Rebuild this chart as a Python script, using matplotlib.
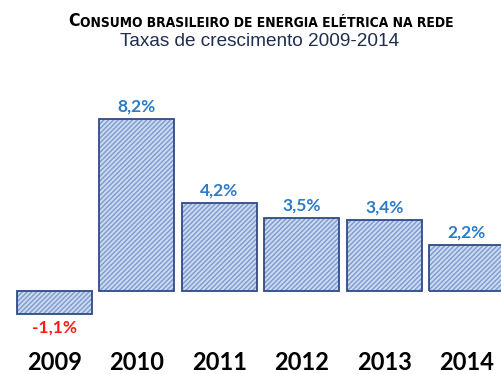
import matplotlib.pyplot as plt

# crescimento anual do consumo de energia elétrica na rede (%)
years = ['2009', '2010', '2011', '2012', '2013', '2014']
growth = [-1.1, 8.2, 4.2, 3.5, 3.4, 2.2]
value_labels = ['-1,1%', '8,2%', '4,2%', '3,5%', '3,4%', '2,2%']

plt.rcParams['hatch.linewidth'] = 1.0

fig = plt.figure(figsize=(5.02, 3.74), dpi=100)
ax = fig.add_axes([0, 0.1176, 1, 0.722])

x = list(range(len(years)))
# fill + hatch, then outline on top
ax.bar(x, growth, width=0.91, color='#CCD9F0', edgecolor='#7C9BD0',
       hatch='///////', linewidth=0)
ax.bar(x, growth, width=0.91, fill=False, edgecolor='#2F4B85', linewidth=1.3)

for xi, v, lab in zip(x, growth, value_labels):
    if v >= 0:
        ax.annotate(lab, (xi, v), textcoords='offset points', xytext=(0, 3),
                    ha='center', va='bottom', fontsize=12.5, fontweight='bold',
                    color='#2B7BC6', family='Lato')
    else:
        ax.annotate(lab, (xi, v), textcoords='offset points', xytext=(0, -4),
                    ha='center', va='top', fontsize=12.5, fontweight='bold',
                    color='#FF1A1A', family='Lato')

for xi, yr in zip(x, years):
    ax.text(xi, -3.42, yr, ha='center', va='center', fontsize=17,
            fontweight='bold', color='black', family='Lato', clip_on=False)

ax.set_xlim(-0.661, 5.43)
ax.set_ylim(-1.857, 11.0)
ax.axis('off')

# title in "small caps"
t1 = fig.text(68 / 502, 1 - 26 / 374, 'C', fontsize=12.7, fontweight='bold',
              family='DejaVu Sans', stretch='condensed', va='baseline')
ax.annotate('ONSUMO BRASILEIRO DE ENERGIA ELÉTRICA NA REDE', xy=(1, 0),
            xycoords=t1, va='bottom', ha='left', fontsize=9.9,
            fontweight='bold', family='DejaVu Sans', stretch='condensed')
fig.text(260 / 502, 1 - 42 / 374, 'Taxas de crescimento 2009-2014', ha='center',
         va='center', fontsize=13.7, color='#1F2D4F', family='Liberation Sans')

fig.savefig('out.png', dpi=100)
